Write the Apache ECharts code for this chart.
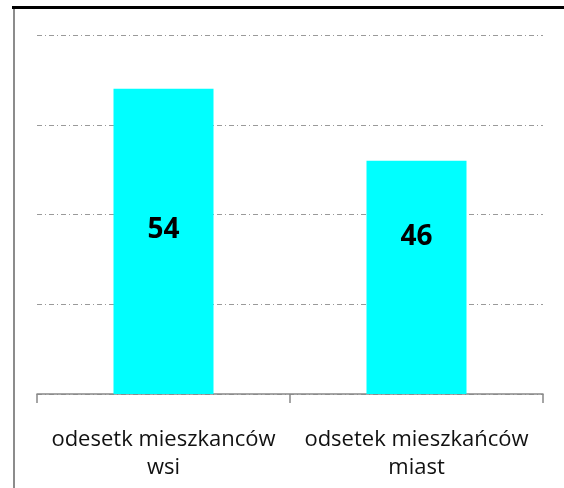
<!DOCTYPE html>
<html>
<head>
<meta charset="utf-8">
<script src="https://cdn.jsdelivr.net/npm/echarts@6/dist/echarts.min.js"></script>
<style>
html,body{margin:0;padding:0;background:#fff;}
#c{width:564px;height:488px;}
</style>
</head>
<body>
<div id="c"></div>
<script>
const categories = ['odesetk mieszkanców\nwsi', 'odsetek mieszkańców\nmiast'];
const values = [54, 46];

const labelOffsets = [[0, -11], [0, -40]];

const chart = echarts.init(document.getElementById('c'), null, {renderer: 'canvas'});
chart.setOption({
  animation: false,
  backgroundColor: '#ffffff',
  graphic: [
    {type: 'rect', shape: {x: 12, y: 6, width: 552, height: 3}, style: {fill: '#000'}},
    {type: 'rect', shape: {x: 13, y: 9, width: 2, height: 479}, style: {fill: '#8c8c8c'}}
  ],
  grid: {left: 37, right: 21, top: 35, bottom: 94, containLabel: false},
  xAxis: {
    type: 'category',
    data: categories,
    boundaryGap: true,
    axisLine: {lineStyle: {color: '#888888', width: 1.5}},
    axisTick: {show: true, length: 9, lineStyle: {color: '#888888', width: 1.5}},
    axisLabel: {
      color: '#111', fontFamily: 'Open Sans', fontSize: 22, lineHeight: 28, margin: 32, interval: 0
    }
  },
  yAxis: {
    type: 'value', min: 20, max: 60, interval: 10,
    axisLine: {show: false}, axisTick: {show: false}, axisLabel: {show: false},
    splitLine: {lineStyle: {color: '#9a9a9a', width: 1, type: [5, 3, 1, 3]}}
  },
  series: [{
    type: 'bar',
    data: values.map((v, i) => ({value: v, label: {offset: labelOffsets[i]}})),
    barWidth: 100,
    itemStyle: {color: '#00ffff'},
    label: {
      show: true, position: 'inside', color: '#000',
      fontFamily: 'Open Sans', fontWeight: 'bold', fontSize: 28
    }
  }]
});
</script>
</body>
</html>
